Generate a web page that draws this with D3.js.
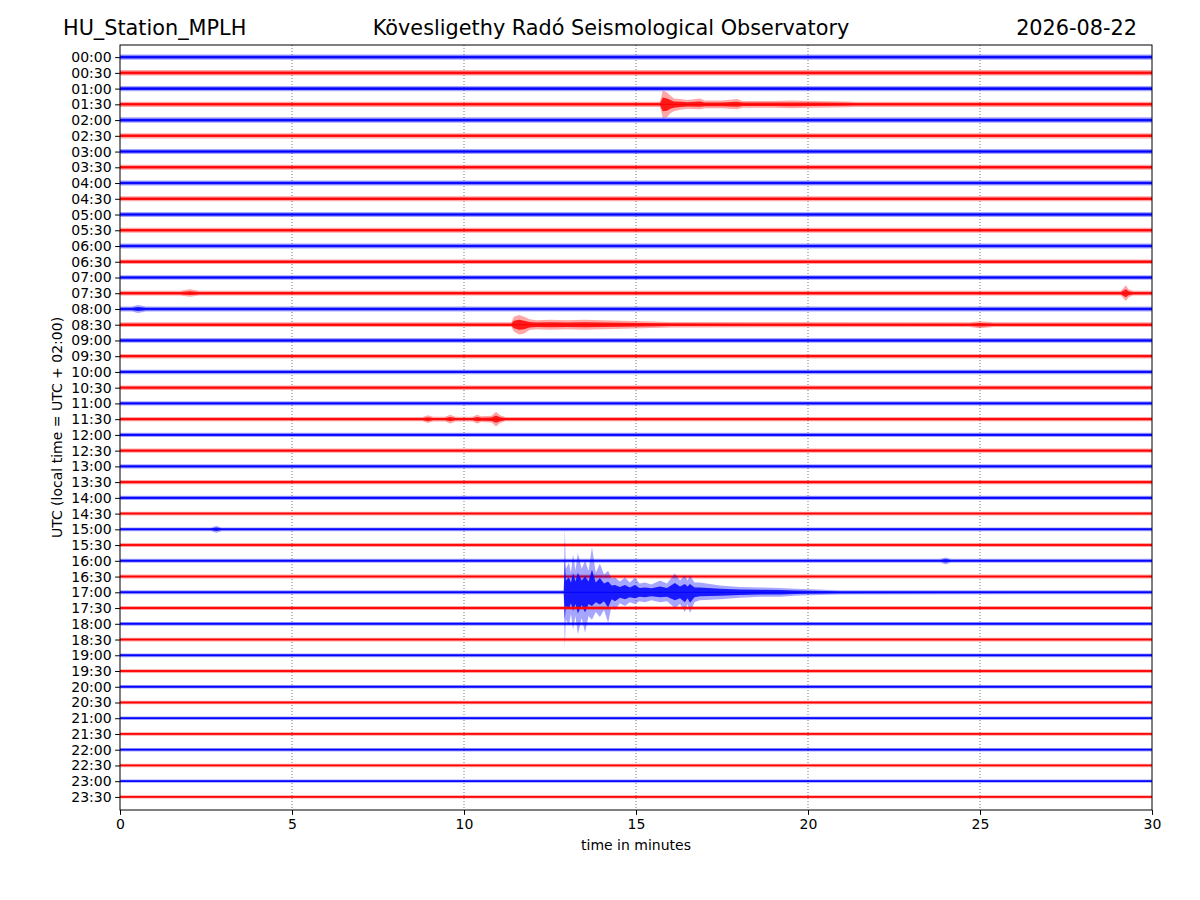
<!DOCTYPE html>
<html>
<head>
<meta charset="utf-8" />
<title>HU_Station_MPLH</title>
<script src="https://d3js.org/d3.v7.min.js"></script>
<style>
    body { margin: 0; background: #fff; }
    svg text { font-family: "DejaVu Sans", sans-serif; fill: #000; }
    .axis path, .axis line { stroke: #000; stroke-width: 1; }
    .grid line { stroke: #555; stroke-width: 0.8; stroke-dasharray: 1,2; }
</style>
</head>
<body>
<div id="chart"></div>
<script>
// header texts
var station = "HU_Station_MPLH";
var observatory = "Kövesligethy Radó Seismological Observatory";
var day = "2026-08-22";

// one trace per half hour, top to bottom
var rowLabels = ["00:00","00:30","01:00","01:30","02:00","02:30","03:00","03:30",
    "04:00","04:30","05:00","05:30","06:00","06:30","07:00","07:30",
    "08:00","08:30","09:00","09:30","10:00","10:30","11:00","11:30",
    "12:00","12:30","13:00","13:30","14:00","14:30","15:00","15:30",
    "16:00","16:30","17:00","17:30","18:00","18:30","19:00","19:30",
    "20:00","20:30","21:00","21:30","22:00","22:30","23:00","23:30"];
var minuteTicks = [0, 5, 10, 15, 20, 25, 30];

// background noise half-amplitude of every trace (rowGap units = one trace spacing)
var rowGap = 16;
var baseAmp = [2.6, 2.8, 2.6, 2.6, 2.8, 2.6, 2.6, 2.5,
    2.5, 2.5, 2.6, 2.5, 2.5, 2.4, 2.4, 2.4,
    2.5, 2.4, 2.4, 2.3, 2.3, 2.3, 2.2, 2.2,
    2.2, 2.1, 2.1, 2.1, 2.1, 2.0, 2.0, 2.0,
    2.0, 2.0, 2.0, 2.0, 1.9, 1.9, 1.9, 1.9,
    1.8, 1.8, 1.8, 1.8, 1.8, 1.7, 1.7, 1.7];

// signals above the noise: [minute, amplitude up, amplitude down]
var ev0130 = [[15.70, 2.6, 2.6], [15.78, 14, 14], [15.90, 12, 13], [16.00, 9, 9], [16.10, 6, 7],
    [16.28, 5.5, 5.5], [16.50, 4.5, 4.5], [16.86, 6, 5], [17.00, 4, 4], [17.50, 4, 4],
    [17.94, 5.5, 5], [18.10, 3.5, 3.5], [19.00, 3.5, 3.5], [19.50, 4, 4], [20.10, 3.5, 3.5],
    [21.10, 3, 3], [21.40, 2.6, 2.6]];
var ev0730a = [[1.75, 2.4, 2.4], [2.03, 4, 3.6], [2.30, 2.4, 2.4]];
var ev0730b = [[29.10, 2.4, 2.4], [29.24, 8, 8], [29.32, 4, 4], [29.45, 2.4, 2.4]];
var ev0800 = [[0.35, 2.5, 2.5], [0.52, 4, 4], [0.75, 2.5, 2.5]];
var ev0830 = [[11.38, 2.4, 2.4], [11.45, 8, 7], [11.60, 10, 10], [11.75, 8, 9], [11.90, 5.5, 5.5],
    [12.10, 4.5, 4.5], [12.50, 5, 5], [13.00, 4.5, 4.5], [13.50, 5, 5], [14.00, 4.5, 4.5],
    [14.60, 4, 4], [15.20, 3.5, 3.5], [16.00, 2.8, 2.8]];
var ev0830b = [[24.70, 2.4, 2.4], [25.00, 3.5, 3.5], [25.40, 2.4, 2.4]];
var ev1130 = [[8.80, 2.2, 2.2], [8.95, 4, 4], [9.10, 2.4, 2.4], [9.45, 2.4, 2.4], [9.60, 4.5, 4.5],
    [9.75, 2.4, 2.4], [10.25, 2.4, 2.4], [10.38, 4.5, 4.5], [10.50, 3, 3], [10.80, 3.5, 3.5],
    [10.93, 7.5, 7.5], [11.05, 4, 4], [11.20, 2.2, 2.2]];
var ev1500 = [[2.65, 2, 2], [2.80, 3.5, 3.5], [2.95, 2, 2]];
var ev1600 = [[23.85, 2, 2], [24.00, 3.5, 3.5], [24.15, 2, 2]];
var ev1700 = [[12.90, 2, 2], [12.93, 66, 56], [12.96, 24, 28], [13.05, 30, 33],
    [13.11, 20, 22], [13.17, 39, 38], [13.24, 22, 24], [13.31, 40, 43], [13.42, 24, 26],
    [13.52, 32, 41], [13.62, 22, 24], [13.72, 46, 28], [13.83, 20, 20], [13.95, 29, 25],
    [14.07, 18, 18], [14.19, 22, 31], [14.29, 14, 14], [14.39, 15, 18], [14.53, 11, 11],
    [14.68, 15, 14], [14.82, 10, 10], [14.97, 15, 12], [15.10, 9, 9], [15.26, 10, 10],
    [15.45, 8, 8], [15.70, 12, 10], [15.90, 9, 9], [16.13, 19, 16], [16.28, 12, 12],
    [16.42, 17, 20], [16.50, 12, 12], [16.57, 17, 21], [16.70, 10, 10], [16.86, 10, 8],
    [17.44, 7, 7], [18.02, 5.5, 5.5], [18.60, 5, 4.5], [19.19, 4.5, 4.5], [19.62, 3.5, 3.5],
    [20.06, 3, 3], [20.90, 2.2, 2.2]];
var eventRows = [3, 15, 15, 16, 17, 17, 23, 30, 32, 34];
var eventEnvs = [ev0130, ev0730a, ev0730b, ev0800, ev0830, ev0830b, ev1130, ev1500, ev1600, ev1700];

var W = 1200, H = 900;
var plotL = 120, plotR = 1152, plotT = 45, plotB = 810;
var colors = ["#0000ff", "#ff0000"];

var svg = d3.select("#chart").append("svg")
    .attr("width", W)
    .attr("height", H);

var x = d3.scaleLinear().domain([0, 30]).range([plotL, plotR]);
var y = d3.scaleLinear().domain([-0.77, 47.83]).range([plotT, plotB]);
var amp = d3.scaleLinear().domain([0, rowGap]).range([0, y(1) - y(0)]);

svg.append("clipPath").attr("id", "plotclip")
    .append("rect").attr("x", plotL).attr("y", plotT)
    .attr("width", plotR - plotL).attr("height", plotB - plotT);

// dotted minute grid
svg.append("g").attr("class", "grid")
    .selectAll("line")
    .data(minuteTicks.slice(1, -1))
    .enter().append("line")
    .attr("x1", function(d) { return x(d); })
    .attr("x2", function(d) { return x(d); })
    .attr("y1", plotT)
    .attr("y2", plotB);

function envelope(r) {
    var b = baseAmp[r];
    var pts = [[0, b, b]];
    eventRows.forEach(function(er, i) {
        if (er === r) pts = pts.concat(eventEnvs[i]);
    });
    pts.push([30, b, b]);
    pts.sort(function(a, c) { return a[0] - c[0]; });
    return pts;
}

var traces = svg.append("g").attr("clip-path", "url(#plotclip)");

rowLabels.forEach(function(lab, r) {
    var env = envelope(r);
    var y0 = y(r);
    var col = colors[r % 2];
    var g = traces.append("g");
    var outer = d3.area()
        .x(function(d) { return x(d[0]); })
        .y0(function(d) { return y0 - amp(d[1]); })
        .y1(function(d) { return y0 + amp(d[2]); });
    var inner = d3.area()
        .x(function(d) { return x(d[0]); })
        .y0(function(d) { return y0 - amp(d[1]) * 0.5; })
        .y1(function(d) { return y0 + amp(d[2]) * 0.5; });
    g.append("path").datum(env).attr("d", outer)
        .attr("fill", col).attr("fill-opacity", 0.35);
    g.append("path").datum(env).attr("d", inner)
        .attr("fill", col).attr("fill-opacity", 0.85);
    g.append("line")
        .attr("x1", x(0)).attr("x2", x(30))
        .attr("y1", y0).attr("y2", y0)
        .attr("stroke", col).attr("stroke-width", 1);
});

// axes
var xAxis = d3.axisBottom(x).tickValues(minuteTicks).tickSize(4.9).tickPadding(4.5)
    .tickFormat(d3.format("d"));
svg.append("g").attr("class", "axis")
    .attr("transform", "translate(0," + plotB + ")")
    .call(xAxis)
    .call(function(g) { g.select(".domain").remove(); })
    .selectAll("text").style("font-size", "14px");

var yAxis = d3.axisLeft(y).tickValues(d3.range(rowLabels.length)).tickSize(4.9).tickPadding(3.5)
    .tickFormat(function(i) { return rowLabels[i]; });
svg.append("g").attr("class", "axis")
    .attr("transform", "translate(" + plotL + ",0)")
    .call(yAxis)
    .call(function(g) { g.select(".domain").remove(); })
    .selectAll("text").style("font-size", "14px");

svg.append("rect")
    .attr("x", plotL).attr("y", plotT)
    .attr("width", plotR - plotL).attr("height", plotB - plotT)
    .attr("fill", "none").attr("stroke", "#000").attr("stroke-width", 1);

// labels
svg.append("text").attr("x", (plotL + plotR) / 2).attr("y", 850)
    .attr("text-anchor", "middle").style("font-size", "14px").text("time in minutes");
svg.append("text")
    .attr("transform", "translate(62," + (plotT + plotB) / 2 + ") rotate(-90)")
    .attr("text-anchor", "middle").style("font-size", "14px")
    .text("UTC (local time = UTC + 02:00)");

svg.append("text").attr("x", 63).attr("y", 35)
    .style("font-size", "20.8px").text(station);
svg.append("text").attr("x", 611).attr("y", 35).attr("text-anchor", "middle")
    .style("font-size", "20.8px").text(observatory);
svg.append("text").attr("x", 1137).attr("y", 35).attr("text-anchor", "end")
    .style("font-size", "20.8px").text(day);
</script>
</body>
</html>
